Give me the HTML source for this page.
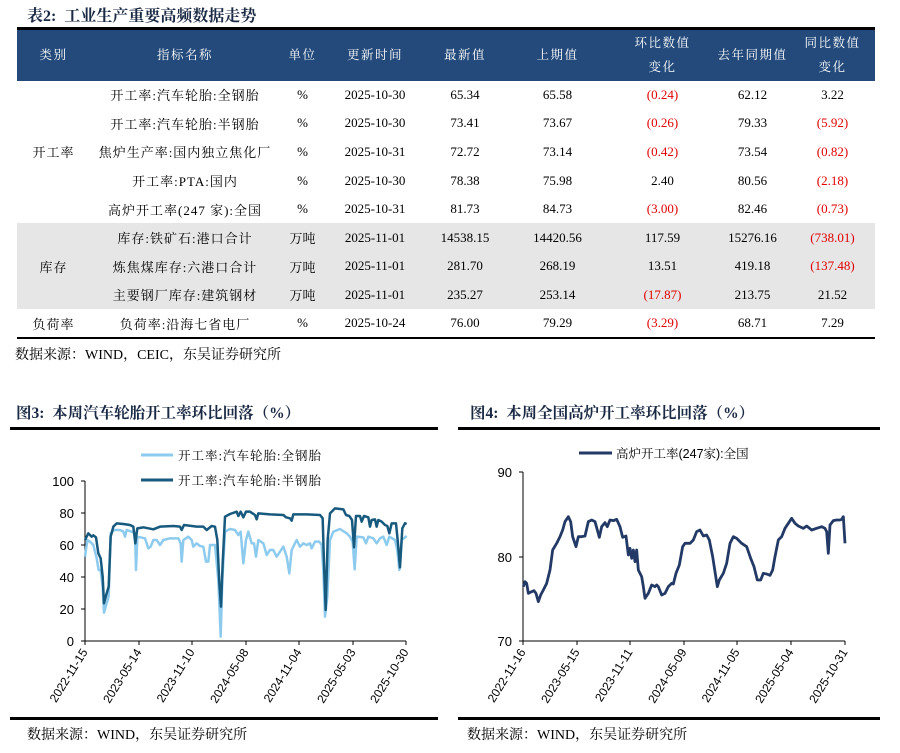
<!DOCTYPE html>
<html><head><meta charset="utf-8"><style>
*{margin:0;padding:0;box-sizing:border-box}
body{width:900px;height:753px;background:#fff;position:relative;overflow:hidden;font-family:"Liberation Serif","Noto Serif CJK SC",serif;color:#000}
.t{position:absolute;white-space:nowrap}
table{position:absolute;left:17px;top:27px;width:858px;border-collapse:collapse;font-size:13px;border-top:3px solid #000;border-bottom:2px solid #000}
td,th{text-align:center;padding:0;height:28.6px}
td.c{letter-spacing:1px}
th{background:#234a7b;color:#fff;font-weight:normal;height:52px;line-height:24px;font-size:12.5px;letter-spacing:1.5px}
tr.g td{background:#e6e6e6}
.r{color:#e00000}
.ttl{font-weight:bold;font-size:15.5px;font-family:"Liberation Serif","Noto Serif CJK SC",serif;color:#1a2a44}
.src{font-size:14px}
.hl{position:absolute;height:3px;background:#000}
</style></head><body>
<div class="t ttl" style="left:27px;top:3px;font-size:16px">表2:&nbsp; 工业生产重要高频数据走势</div>
<table>
<colgroup><col style="width:73px"><col style="width:190px"><col style="width:45px"><col style="width:100px"><col style="width:80px"><col style="width:105px"><col style="width:105px"><col style="width:75px"><col style="width:85px"></colgroup>
<tr><th>类别</th><th>指标名称</th><th>单位</th><th>更新时间</th><th>最新值</th><th>上期值</th><th>环比数值<br>变化</th><th>去年同期值</th><th>同比数值<br>变化</th></tr>
<tr><td class="c" rowspan="5">开工率</td><td class="c">开工率:汽车轮胎:全钢胎</td><td>%</td><td>2025-10-30</td><td>65.34</td><td>65.58</td><td class="r">(0.24)</td><td>62.12</td><td>3.22</td></tr>
<tr><td class="c">开工率:汽车轮胎:半钢胎</td><td>%</td><td>2025-10-30</td><td>73.41</td><td>73.67</td><td class="r">(0.26)</td><td>79.33</td><td class="r">(5.92)</td></tr>
<tr><td class="c">焦炉生产率:国内独立焦化厂</td><td>%</td><td>2025-10-31</td><td>72.72</td><td>73.14</td><td class="r">(0.42)</td><td>73.54</td><td class="r">(0.82)</td></tr>
<tr><td class="c">开工率:PTA:国内</td><td>%</td><td>2025-10-30</td><td>78.38</td><td>75.98</td><td>2.40</td><td>80.56</td><td class="r">(2.18)</td></tr>
<tr><td class="c">高炉开工率(247 家):全国</td><td>%</td><td>2025-10-31</td><td>81.73</td><td>84.73</td><td class="r">(3.00)</td><td>82.46</td><td class="r">(0.73)</td></tr>
<tr class="g"><td class="c" rowspan="3">库存</td><td class="c">库存:铁矿石:港口合计</td><td>万吨</td><td>2025-11-01</td><td>14538.15</td><td>14420.56</td><td>117.59</td><td>15276.16</td><td class="r">(738.01)</td></tr>
<tr class="g"><td class="c">炼焦煤库存:六港口合计</td><td>万吨</td><td>2025-11-01</td><td>281.70</td><td>268.19</td><td>13.51</td><td>419.18</td><td class="r">(137.48)</td></tr>
<tr class="g"><td class="c">主要钢厂库存:建筑钢材</td><td>万吨</td><td>2025-11-01</td><td>235.27</td><td>253.14</td><td class="r">(17.87)</td><td>213.75</td><td>21.52</td></tr>
<tr><td class="c">负荷率</td><td class="c">负荷率:沿海七省电厂</td><td>%</td><td>2025-10-24</td><td>76.00</td><td>79.29</td><td class="r">(3.29)</td><td>68.71</td><td>7.29</td></tr>
</table>
<div class="t src" style="left:15px;top:344px">数据来源：WIND，CEIC，东吴证券研究所</div>
<div class="t ttl" style="left:16px;top:401px">图3:&nbsp; 本周汽车轮胎开工率环比回落（%）</div>
<div class="t ttl" style="left:470px;top:401px">图4:&nbsp; 本周全国高炉开工率环比回落（%）</div>
<div class="hl" style="left:10px;top:427px;width:428px"></div>
<div class="hl" style="left:458px;top:427px;width:422px"></div>
<div class="hl" style="left:10px;top:717px;width:428px"></div>
<div class="hl" style="left:458px;top:717px;width:422px"></div>
<div class="t src" style="left:27px;top:724px">数据来源：WIND，东吴证券研究所</div>
<div class="t src" style="left:467px;top:724px">数据来源：WIND，东吴证券研究所</div>
<svg width="900" height="753" style="position:absolute;left:0;top:0" font-family="Liberation Sans, Noto Sans CJK SC, sans-serif">
<g font-size="13" text-anchor="end" fill="#000">
<text x="74" y="486">100</text><text x="74" y="518">80</text><text x="74" y="550">60</text><text x="74" y="582">40</text><text x="74" y="614">20</text><text x="74" y="646">0</text>
<text x="512" y="477">90</text><text x="512" y="562">80</text><text x="512" y="646">70</text>
</g>
<g stroke="#000" stroke-width="1" fill="none">
<path d="M85 481V641H406M81 481H85M81 513H85M81 545H85M81 577H85M81 609H85M81 641H85M85 641v4M139 641v4M192 641v4M246 641v4M299 641v4M353 641v4M406 641v4"/>
<path d="M523 472V641H845M519 472H523M519 557H523M519 641H523M523 641v4M577 641v4M630 641v4M684 641v4M737 641v4M791 641v4M845 641v4"/>
</g>
<g font-size="12" text-anchor="end">
<text transform="translate(88,652) rotate(-58)">2022-11-15</text>
<text transform="translate(142,652) rotate(-58)">2023-05-14</text>
<text transform="translate(195,652) rotate(-58)">2023-11-10</text>
<text transform="translate(249,652) rotate(-58)">2024-05-08</text>
<text transform="translate(302,652) rotate(-58)">2024-11-04</text>
<text transform="translate(356,652) rotate(-58)">2025-05-03</text>
<text transform="translate(409,652) rotate(-58)">2025-10-30</text>
<text transform="translate(526,652) rotate(-58)">2022-11-16</text>
<text transform="translate(580,652) rotate(-58)">2023-05-15</text>
<text transform="translate(633,652) rotate(-58)">2023-11-11</text>
<text transform="translate(687,652) rotate(-58)">2024-05-09</text>
<text transform="translate(740,652) rotate(-58)">2024-11-05</text>
<text transform="translate(794,652) rotate(-58)">2025-05-04</text>
<text transform="translate(848,652) rotate(-58)">2025-10-31</text>
</g>
<line x1="141" y1="455" x2="173" y2="455" stroke="#8dcbee" stroke-width="3"/>
<line x1="141" y1="480" x2="173" y2="480" stroke="#175a7e" stroke-width="3"/>
<text x="178" y="460" font-size="12.5" letter-spacing="1" font-family="Liberation Serif, Noto Serif CJK SC, serif">开工率:汽车轮胎:全钢胎</text>
<text x="178" y="485" font-size="12.5" letter-spacing="1" font-family="Liberation Serif, Noto Serif CJK SC, serif">开工率:汽车轮胎:半钢胎</text>
<line x1="579" y1="453" x2="612" y2="453" stroke="#233a66" stroke-width="3"/>
<text x="616" y="458" font-size="12.5" font-family="Liberation Sans, Noto Serif CJK SC, sans-serif">高炉开工率(247家):全国</text>
<g transform="translate(30,430) scale(0.33333)" fill="none" stroke-linejoin="round">
<polyline vector-effect="non-scaling-stroke" stroke="#8dcbee" stroke-width="2.5" points="165,380 172,330 180,335 190,345 200,385 206,420 212,420 218,470 222,548 230,520 236,500 242,310 252,300 270,300 280,305 285,320 290,300 305,305 315,310 318,420 322,320 345,325 355,355 362,350 370,330 380,330 390,345 400,330 420,325 445,325 452,340 455,395 460,330 475,320 485,330 490,350 500,340 510,348 520,350 528,395 535,395 540,345 555,345 565,450 572,620 577,450 585,305 600,297 615,300 625,315 632,305 640,400 648,330 655,305 665,340 672,340 678,380 685,330 700,340 710,375 720,360 730,360 740,380 760,350 770,380 778,430 785,360 800,330 810,350 820,340 830,345 840,340 845,355 855,335 868,335 875,345 880,420 885,560 892,500 900,330 910,305 930,297 950,310 960,320 968,335 974,418 980,320 1000,322 1008,340 1015,320 1030,325 1040,340 1050,325 1060,320 1070,345 1078,320 1095,330 1102,360 1108,420 1115,330 1130,318"/>
<polyline vector-effect="non-scaling-stroke" stroke="#175a7e" stroke-width="2.5" points="165,330 175,310 185,320 190,316 198,322 205,370 212,385 218,440 222,520 230,490 236,470 242,320 250,290 260,280 280,282 300,285 310,290 316,340 322,295 340,292 370,298 390,290 430,288 450,290 455,300 462,285 500,290 520,290 530,300 545,288 555,290 562,330 568,460 573,530 578,400 585,260 600,252 620,245 625,258 632,245 640,262 648,245 660,245 675,255 680,268 685,250 720,253 760,255 768,262 780,265 785,272 790,253 830,253 870,255 878,265 882,400 887,540 893,330 900,250 915,235 940,238 948,255 958,258 966,270 972,352 978,258 990,258 995,275 1002,258 1015,262 1020,290 1025,270 1035,268 1040,290 1045,270 1055,275 1065,285 1072,288 1078,310 1085,280 1098,280 1103,330 1110,412 1117,295 1125,280 1130,282"/>
</g>
<g transform="translate(460,430) scale(0.33333)" fill="none" stroke-linejoin="round">
<polyline vector-effect="non-scaling-stroke" stroke="#233a66" stroke-width="2.8" points="190,470 195,455 200,460 205,490 215,485 222,482 228,490 235,515 242,495 250,480 260,460 270,420 278,360 290,340 300,320 308,300 315,275 325,260 332,275 338,320 348,350 355,320 365,320 375,318 385,275 395,270 405,275 412,300 418,322 425,290 435,278 442,290 450,270 460,272 470,268 480,290 488,322 498,318 505,375 510,355 515,385 520,360 525,395 530,360 535,420 545,440 550,470 555,505 565,490 575,465 585,470 590,465 595,470 605,495 615,490 625,470 635,460 640,462 648,430 658,405 668,350 675,340 690,340 700,330 710,305 720,300 730,318 740,315 748,330 758,380 772,470 778,450 790,430 800,400 810,340 820,320 830,325 845,340 860,350 872,385 882,410 892,450 902,450 910,430 920,432 930,436 938,420 945,380 955,330 965,320 975,295 985,280 995,265 1005,280 1015,288 1030,295 1040,288 1055,300 1070,295 1085,290 1095,295 1100,305 1105,370 1110,285 1120,272 1130,270 1140,270 1145,268 1150,260 1155,340"/>
</g>
</svg>
</body></html>
